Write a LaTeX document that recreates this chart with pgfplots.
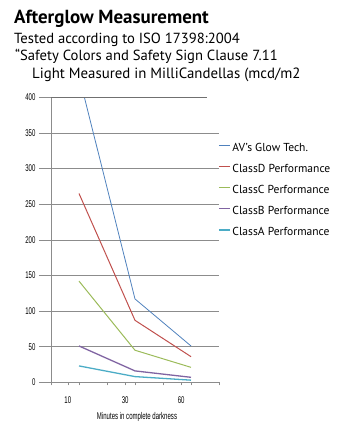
\documentclass[border=0pt]{standalone}
\usepackage{fontspec}
\setmainfont{PT Sans}
\newfontfamily\narrow[FakeStretch=0.62]{Liberation Sans}
\usepackage{pgfplots}
\pgfplotsset{compat=1.18}
\definecolor{cBlue}{HTML}{4F81BD}
\definecolor{cRed}{HTML}{C0504D}
\definecolor{cGreen}{HTML}{9BBB59}
\definecolor{cPurple}{HTML}{8064A2}
\definecolor{cCyan}{HTML}{4BACC6}
\definecolor{cGrid}{HTML}{8C8C8C}
\begin{document}
\begin{tikzpicture}
\path[use as bounding box] (0bp,0bp) rectangle (341bp,-426bp);
\node[anchor=base west, inner sep=0pt, font=\fontsize{19}{21}\selectfont\bfseries] at (14bp,-23bp) {Afterglow Measurement};
\node[anchor=base west, inner sep=0pt, font=\fontsize{14.7}{16}\selectfont] at (14bp,-43bp) {Tested according to ISO 17398:2004};
\node[anchor=base west, inner sep=0pt, font=\fontsize{14.7}{16}\selectfont] at (15bp,-60bp) {“Safety Colors and Safety Sign Clause 7.11};
\node[anchor=base west, inner sep=0pt, font=\fontsize{14.9}{16}\selectfont] at (32bp,-78bp) {Light Measured in MilliCandellas (mcd/m2};
\begin{axis}[
  at={(51bp,-382.3bp)}, anchor=south west,
  scale only axis, width=168bp, height=285bp,
  xmin=0, xmax=6, ymin=0, ymax=400,
  axis lines*=left,
  axis line style={cGrid, line width=0.6pt},
  tick align=outside,
  major tick length=12bp,
  /pgf/number format/assume math mode=true,
  ytick={0,50,...,350},
  extra y ticks={400},
  extra y tick style={grid=none},
  ymajorgrids,
  grid style={cGrid, line width=0.6pt},
  ytick style={cGrid, line width=0.6pt},
  yticklabel style={font=\narrow\fontsize{9.8}{10}\selectfont, text=black},
  xtick={0,1,...,6},
  xticklabels={},
  xtick style={cGrid, line width=0.6pt, /pgfplots/major tick length=3bp},
  extra x ticks={0.6,2.65,4.65},
  extra x tick labels={10,30,60},
  extra x tick style={/pgfplots/major tick length=0pt, xticklabel style={yshift=-11bp}},
  xticklabel style={font=\narrow\fontsize{9.8}{10}\selectfont, text=black},
  xlabel={Minutes in complete darkness},
  xlabel style={font=\narrow\fontsize{9.8}{10}\selectfont, text=black, at={(axis description cs:0.512,-0.122)}, anchor=center},
  legend style={at={(axis description cs:0.994,0.840)}, anchor=north west, draw=none, fill=none,
    font=\fontsize{11.6}{12}\selectfont, row sep=10.3bp, column sep=2bp, inner sep=0pt,
    nodes={inner sep=0pt, text height=8.3bp, text depth=2.5bp}},
  legend cell align=left,
  legend image code/.code={\draw[#1] (0bp,3bp) -- (11bp,3bp);},
]
\addplot[cBlue, line width=0.8pt] coordinates {(1,430) (3,117) (5,51)};
\addlegendentry{AV's Glow Tech.}
\addplot[cRed, line width=1pt] coordinates {(1,265) (3,87) (5,36)};
\addlegendentry{ClassD Performance}
\addplot[cGreen, line width=1pt] coordinates {(1,142) (3,45) (5,21)};
\addlegendentry{ClassC Performance}
\addplot[cPurple, line width=1.3pt] coordinates {(1,51) (3,16) (5,7)};
\addlegendentry{ClassB Performance}
\addplot[cCyan, line width=1.3pt] coordinates {(1,23) (3,8) (5,3)};
\addlegendentry{ClassA Performance}
\coordinate (T1) at (axis cs:0,400);
\end{axis}
\draw[cGrid!80!black, line width=0.6pt] (T1) -- ++(156bp,0bp);
\end{tikzpicture}
\end{document}
